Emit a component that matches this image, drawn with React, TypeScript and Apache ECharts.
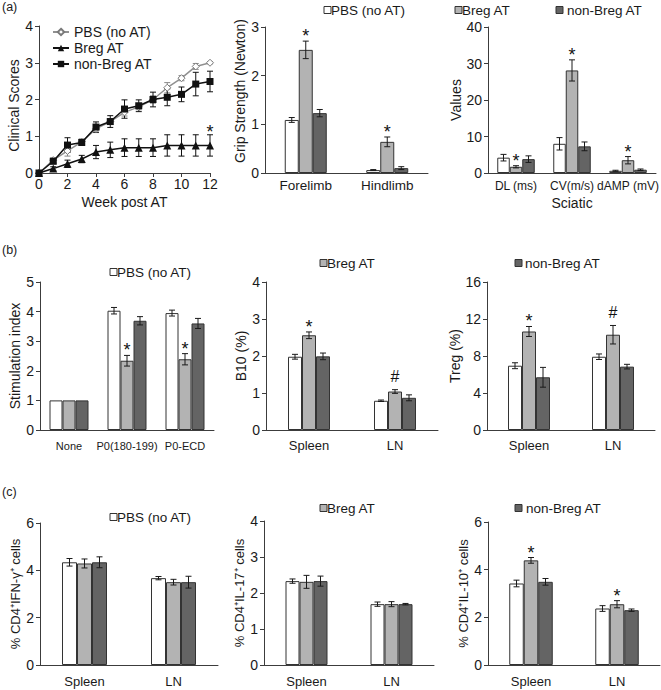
import React, { useEffect, useRef } from 'react';
import * as echarts from 'echarts';

const FONT = "'Liberation Sans', Arial, Helvetica, sans-serif";

// ---------- (a) Clinical scores ----------
const weeks = [0, 1, 2, 3, 4, 5, 6, 7, 8, 9, 10, 11, 12];
const clinPBS = [0, 0.35, 0.6, 0.85, 1.2, 1.4, 1.65, 1.8, 2.0, 2.32, 2.58, 2.9, 3.0];
const clinPBSErr = [0, 0.06, 0.14, 0.08, 0.1, 0.08, 0.1, 0.08, 0.1, 0.14, 0.07, 0.08, 0.03];
const clinBreg = [0, 0.12, 0.25, 0.38, 0.57, 0.63, 0.69, 0.69, 0.69, 0.75, 0.75, 0.75, 0.75];
const clinBregErr = [0, 0.05, 0.1, 0.1, 0.18, 0.21, 0.24, 0.24, 0.24, 0.29, 0.29, 0.29, 0.29];
const clinNonBreg = [0, 0.32, 0.76, 0.83, 1.25, 1.4, 1.74, 1.83, 2.0, 2.06, 2.14, 2.42, 2.49];
const clinNonBregErr = [0, 0.07, 0.2, 0.07, 0.14, 0.16, 0.25, 0.16, 0.2, 0.23, 0.2, 0.32, 0.28];
const clinBregSig = ['', '', '', '', '', '', '', '', '', '', '', '', '*'];

// ---------- (a) Grip strength ----------
const gripCategories = ['Forelimb', 'Hindlimb'];
const gripPBS = [1.09, 0.06];
const gripPBSErr = [0.05, 0.01];
const gripBreg = [2.53, 0.64];
const gripBregErr = [0.18, 0.1];
const gripNonBreg = [1.23, 0.1];
const gripNonBregErr = [0.075, 0.03];
const gripSig = ['*', '*'];

// ---------- (a) Sciatic ----------
const sciaticCategories = ['DL (ms)', 'CV(m/s)', 'dAMP (mV)'];
const sciaticPBS = [4.2, 8.0, 0.6];
const sciaticPBSErr = [0.9, 1.7, 0.15];
const sciaticBreg = [1.7, 28.1, 3.5];
const sciaticBregErr = [0.3, 2.9, 1.0];
const sciaticNonBreg = [3.8, 7.3, 0.9];
const sciaticNonBregErr = [0.9, 1.2, 0.2];
const sciaticSig = ['*', '*', '*'];

// ---------- (b) Stimulation index ----------
const stimCategories = ['None', 'P0(180-199)', 'P0-ECD'];
const stimPBS = [1, 4.03, 3.95];
const stimPBSErr = [0, 0.11, 0.1];
const stimBreg = [1, 2.34, 2.39];
const stimBregErr = [0, 0.18, 0.19];
const stimNonBreg = [1, 3.69, 3.6];
const stimNonBregErr = [0, 0.14, 0.17];
const stimSig = ['', '*', '*'];

// ---------- (b) B10 ----------
const tissueCategories = ['Spleen', 'LN'];
const b10PBS = [1.98, 0.79];
const b10PBSErr = [0.065, 0.02];
const b10Breg = [2.56, 1.04];
const b10BregErr = [0.09, 0.05];
const b10NonBreg = [1.99, 0.87];
const b10NonBregErr = [0.09, 0.08];
const b10Sig = ['*', '#'];

// ---------- (b) Treg ----------
const tregPBS = [6.95, 7.92];
const tregPBSErr = [0.32, 0.3];
const tregBreg = [10.65, 10.3];
const tregBregErr = [0.54, 1.0];
const tregNonBreg = [5.7, 6.85];
const tregNonBregErr = [1.07, 0.25];
const tregSig = ['*', '#'];

// ---------- (c) IFN-γ ----------
const ifnPBS = [4.34, 3.67];
const ifnPBSErr = [0.16, 0.07];
const ifnBreg = [4.29, 3.5];
const ifnBregErr = [0.19, 0.12];
const ifnNonBreg = [4.34, 3.5];
const ifnNonBregErr = [0.23, 0.25];
const ifnSig = ['', ''];

// ---------- (c) IL-17 ----------
const il17PBS = [2.33, 1.69];
const il17PBSErr = [0.06, 0.06];
const il17Breg = [2.31, 1.69];
const il17BregErr = [0.18, 0.07];
const il17NonBreg = [2.33, 1.69];
const il17NonBregErr = [0.14, 0.02];
const il17Sig = ['', ''];

// ---------- (c) IL-10 ----------
const il10PBS = [3.42, 2.37];
const il10PBSErr = [0.14, 0.12];
const il10Breg = [4.39, 2.55];
const il10BregErr = [0.12, 0.15];
const il10NonBreg = [3.49, 2.3];
const il10NonBregErr = [0.14, 0.05];
const il10Sig = ['*', '*'];

const groupNames = ['PBS (no AT)', 'Breg AT', 'non-Breg AT'];
const fills = ['#ffffff', '#b3b3b3', '#646464'];

const barPanels: Record<string, any> = {
  grip: { cats: gripCategories, vals: [gripPBS, gripBreg, gripNonBreg], errs: [gripPBSErr, gripBregErr, gripNonBregErr], sig: gripSig },
  sciatic: { cats: sciaticCategories, vals: [sciaticPBS, sciaticBreg, sciaticNonBreg], errs: [sciaticPBSErr, sciaticBregErr, sciaticNonBregErr], sig: sciaticSig },
  stim: { cats: stimCategories, vals: [stimPBS, stimBreg, stimNonBreg], errs: [stimPBSErr, stimBregErr, stimNonBregErr], sig: stimSig },
  b10: { cats: tissueCategories, vals: [b10PBS, b10Breg, b10NonBreg], errs: [b10PBSErr, b10BregErr, b10NonBregErr], sig: b10Sig },
  treg: { cats: tissueCategories, vals: [tregPBS, tregBreg, tregNonBreg], errs: [tregPBSErr, tregBregErr, tregNonBregErr], sig: tregSig },
  ifn: { cats: tissueCategories, vals: [ifnPBS, ifnBreg, ifnNonBreg], errs: [ifnPBSErr, ifnBregErr, ifnNonBregErr], sig: ifnSig },
  il17: { cats: tissueCategories, vals: [il17PBS, il17Breg, il17NonBreg], errs: [il17PBSErr, il17BregErr, il17NonBregErr], sig: il17Sig },
  il10: { cats: tissueCategories, vals: [il10PBS, il10Breg, il10NonBreg], errs: [il10PBSErr, il10BregErr, il10NonBregErr], sig: il10Sig },
};

// layout (positions / styles only)
const layouts = [
  { key: 'grip', left: 265, top: 27, width: 163, height: 146, max: 3, interval: 1, yName: 'Grip Strength (Newton)', nameGap: 18, namePad: [0, 0, 0, 18], barWidth: 14, catMargin: 5, catFont: 13.5, nameFont: 14 },
  { key: 'sciatic', left: 488, top: 27, width: 168, height: 146, max: 40, interval: 10, yName: 'Values', nameGap: 19, barWidth: 12.5, catMargin: 7, catFont: 12, nameFont: 14, xName: 'Sciatic' },
  { key: 'stim', left: 40, top: 282, width: 174, height: 148, max: 5, interval: 1, yName: 'Stimulation index', nameGap: 18, barWidth: 13, catMargin: 10, catFont: 11, nameFont: 14 },
  { key: 'b10', left: 266, top: 282, width: 172, height: 148, max: 4, interval: 1, yName: 'B10 (%)', nameGap: 16, barWidth: 14, catMargin: 9, catFont: 13, nameFont: 14 },
  { key: 'treg', left: 487, top: 282, width: 168, height: 148, max: 16, interval: 4, yName: 'Treg (%)', nameGap: 18, barWidth: 14, catMargin: 9, catFont: 13, nameFont: 14 },
  { key: 'ifn', left: 40, top: 523, width: 178, height: 142, max: 6, interval: 2, yName: '% CD4⁺IFN-γ⁺ cells', nameGap: 18, barWidth: 15, catMargin: 10, catFont: 13, nameFont: 13 },
  { key: 'il17', left: 264, top: 521, width: 170, height: 144, max: 4, interval: 1, yName: '% CD4⁺IL-17⁺ cells', nameGap: 17, barWidth: 14, catMargin: 10, catFont: 13, nameFont: 13 },
  { key: 'il10', left: 488, top: 522, width: 172, height: 143, max: 6, interval: 2, yName: '% CD4⁺IL-10⁺ cells', nameGap: 18, barWidth: 14.5, catMargin: 10, catFont: 13, nameFont: 13 },
];

const legendSpots = [
  { g: 0, x: 324, y: 10, tx: 331 }, { g: 1, x: 455, y: 10, tx: 462 }, { g: 2, x: 556, y: 10, tx: 567 },
  { g: 0, x: 110, y: 272, tx: 117 }, { g: 1, x: 320, y: 263, tx: 327 }, { g: 2, x: 515, y: 263, tx: 525 },
  { g: 0, x: 110, y: 517, tx: 117 }, { g: 1, x: 320, y: 508, tx: 327 }, { g: 2, x: 515, y: 508, tx: 526 },
];

const AXIS_COLOR = '#3c3c3c';
const TEXT_COLOR = '#1a1a1a';

function errRender(offsetIndex: number, bw: number, sig: string[], color: string, starGap: number) {
  return (params: any, api: any) => {
    const i = api.value(0);
    const v = api.value(1);
    const e = api.value(2);
    const c = api.coord([i, v]);
    const x = c[0] + offsetIndex * bw;
    const top = api.coord([i, v + e])[1];
    const bot = api.coord([i, v - e])[1];
    const children: any[] = [];
    if (e > 0) {
      const st = { stroke: color, lineWidth: 1 };
      children.push({ type: 'line', shape: { x1: x, y1: top, x2: x, y2: bot }, style: st });
      children.push({ type: 'line', shape: { x1: x - 3, y1: top, x2: x + 3, y2: top }, style: st });
      children.push({ type: 'line', shape: { x1: x - 3, y1: bot, x2: x + 3, y2: bot }, style: st });
    }
    const s = sig[params.dataIndex];
    if (s) {
      const isHash = s === '#';
      children.push({
        type: 'text',
        x,
        y: isHash ? top - 13 : top - starGap,
        style: {
          text: s,
          fontSize: isHash ? 16 : 18,
          fontFamily: FONT,
          fill: '#111',
          align: 'center',
          verticalAlign: 'middle',
        },
      });
    }
    return { type: 'group', children };
  };
}

function buildOption() {
  const grid: any[] = [{ left: 39, top: 26, width: 171, height: 147, outerBoundsMode: 'none' }];
  const xAxis: any[] = [{
    type: 'value', gridIndex: 0, min: 0, max: 12, interval: 2,
    axisLine: { show: true, lineStyle: { color: AXIS_COLOR } },
    axisTick: { show: true, length: 4, lineStyle: { color: AXIS_COLOR } },
    axisLabel: { margin: 4, fontSize: 14, color: TEXT_COLOR, fontFamily: FONT },
    splitLine: { show: false },
    name: 'Week post AT', nameLocation: 'middle', nameGap: 22,
    nameTextStyle: { fontSize: 14, color: TEXT_COLOR, fontFamily: FONT },
  }];
  const yAxis: any[] = [{
    type: 'value', gridIndex: 0, min: 0, max: 4, interval: 1,
    axisLine: { show: true, lineStyle: { color: AXIS_COLOR } },
    axisTick: { show: true, length: 4, lineStyle: { color: AXIS_COLOR } },
    axisLabel: { margin: 6, fontSize: 14, color: TEXT_COLOR, fontFamily: FONT },
    splitLine: { show: false },
    name: 'Clinical Scores', nameLocation: 'middle', nameGap: 17,
    nameTextStyle: { fontSize: 14, color: TEXT_COLOR, fontFamily: FONT, padding: [0, 12, 0, 0] },
  }];

  const lineVals = [clinPBS, clinBreg, clinNonBreg];
  const lineErrs = [clinPBSErr, clinBregErr, clinNonBregErr];
  const lineSigs = [[], clinBregSig, []];
  const lineErrColors = ['#8a8a8a', '#111', '#111'];
  const series: any[] = [];
  lineVals.forEach((vals, k) => {
    series.push({
      type: 'custom', xAxisIndex: 0, yAxisIndex: 0, silent: true, z: 2,
      data: weeks.map((w, i) => [w, vals[i], lineErrs[k][i]]),
      renderItem: errRender(0, 0, lineSigs[k] as string[], lineErrColors[k], 3),
    });
  });
  series.push({
    type: 'line', name: groupNames[0], xAxisIndex: 0, yAxisIndex: 0, z: 3,
    data: weeks.map((w, i) => [w, clinPBS[i]]),
    symbol: 'diamond', symbolSize: 7, showAllSymbol: true,
    lineStyle: { color: '#909090', width: 1.5 },
    itemStyle: { color: '#ffffff', borderColor: '#7a7a7a', borderWidth: 1 },
  });
  series.push({
    type: 'line', name: groupNames[1], xAxisIndex: 0, yAxisIndex: 0, z: 4,
    data: weeks.map((w, i) => [w, clinBreg[i]]),
    symbol: 'triangle', symbolSize: 8, showAllSymbol: true,
    lineStyle: { color: '#111', width: 1.5 },
    itemStyle: { color: '#111' },
  });
  series.push({
    type: 'line', name: groupNames[2], xAxisIndex: 0, yAxisIndex: 0, z: 5,
    data: weeks.map((w, i) => [w, clinNonBreg[i]]),
    symbol: 'rect', symbolSize: 7, showAllSymbol: true,
    lineStyle: { color: '#111', width: 1.5 },
    itemStyle: { color: '#111' },
  });

  layouts.forEach((L: any, gi) => {
    const g = gi + 1;
    const d = barPanels[L.key];
    grid.push({ left: L.left, top: L.top, width: L.width, height: L.height, outerBoundsMode: 'none' });
    xAxis.push({
      type: 'category', gridIndex: g, data: d.cats,
      axisLine: { show: true, lineStyle: { color: AXIS_COLOR } },
      axisTick: { show: false },
      axisLabel: { margin: L.catMargin, fontSize: L.catFont, color: TEXT_COLOR, fontFamily: FONT, interval: 0 },
      splitLine: { show: false },
      name: L.xName || '', nameLocation: 'middle', nameGap: 23,
      nameTextStyle: { fontSize: 14, color: TEXT_COLOR, fontFamily: FONT },
    });
    yAxis.push({
      type: 'value', gridIndex: g, min: 0, max: L.max, interval: L.interval,
      axisLine: { show: true, lineStyle: { color: AXIS_COLOR } },
      axisTick: { show: true, length: 4, lineStyle: { color: AXIS_COLOR } },
      axisLabel: { margin: 6, fontSize: 14, color: TEXT_COLOR, fontFamily: FONT },
      splitLine: { show: false },
      name: L.yName, nameLocation: 'middle', nameGap: L.nameGap,
      nameTextStyle: { fontSize: L.nameFont, color: TEXT_COLOR, fontFamily: FONT, padding: L.namePad || 0 },
    });
    for (let k = 0; k < 3; k++) {
      series.push({
        type: 'bar', name: groupNames[k] + ' / ' + L.key, xAxisIndex: g, yAxisIndex: g,
        data: d.vals[k], barWidth: L.barWidth, barGap: '0%', silent: true, z: 2,
        itemStyle: { color: fills[k], borderColor: '#333', borderWidth: 1 },
      });
    }
    for (let k = 0; k < 3; k++) {
      series.push({
        type: 'custom', xAxisIndex: g, yAxisIndex: g, silent: true, z: 3,
        data: d.vals[k].map((v: number, i: number) => [i, v, d.errs[k][i]]),
        renderItem: errRender(k - 1, L.barWidth, k === 1 ? d.sig : [], '#1a1a1a', 5),
      });
    }
  });

  const graphic: any[] = [
    { type: 'text', x: 2, y: 7, style: { text: '(a)', fontSize: 12.5, fontFamily: FONT, fill: TEXT_COLOR, verticalAlign: 'middle' } },
    { type: 'text', x: 2, y: 250, style: { text: '(b)', fontSize: 12.5, fontFamily: FONT, fill: TEXT_COLOR, verticalAlign: 'middle' } },
    { type: 'text', x: 2, y: 492, style: { text: '(c)', fontSize: 12.5, fontFamily: FONT, fill: TEXT_COLOR, verticalAlign: 'middle' } },
  ];
  legendSpots.forEach((s) => {
    graphic.push({ type: 'rect', shape: { x: s.x, y: s.y - 3.5, width: 7, height: 7 }, style: { fill: fills[s.g], stroke: '#333', lineWidth: 1 } });
    graphic.push({ type: 'text', x: s.tx, y: s.y, style: { text: groupNames[s.g], fontSize: 13.5, fontFamily: FONT, fill: TEXT_COLOR, verticalAlign: 'middle' } });
  });

  return {
    animation: false,
    backgroundColor: '#ffffff',
    textStyle: { fontFamily: FONT },
    legend: [{
      show: true, orient: 'vertical', left: 52, top: 25, padding: 0,
      itemWidth: 16, itemHeight: 8, itemGap: 2, selectedMode: false,
      data: groupNames,
      textStyle: { fontSize: 14, color: TEXT_COLOR, fontFamily: FONT },
    }],
    grid, xAxis, yAxis, series, graphic,
  };
}

export default function App() {
  const ref = useRef<HTMLDivElement>(null);
  useEffect(() => {
    const chart = echarts.init(ref.current!, null, { renderer: 'svg' });
    chart.setOption(buildOption() as any);
    return () => chart.dispose();
  }, []);
  return <div ref={ref} style={{ position: 'absolute', left: 0, top: 0, width: 661, height: 690, background: '#fff' }} />;
}
